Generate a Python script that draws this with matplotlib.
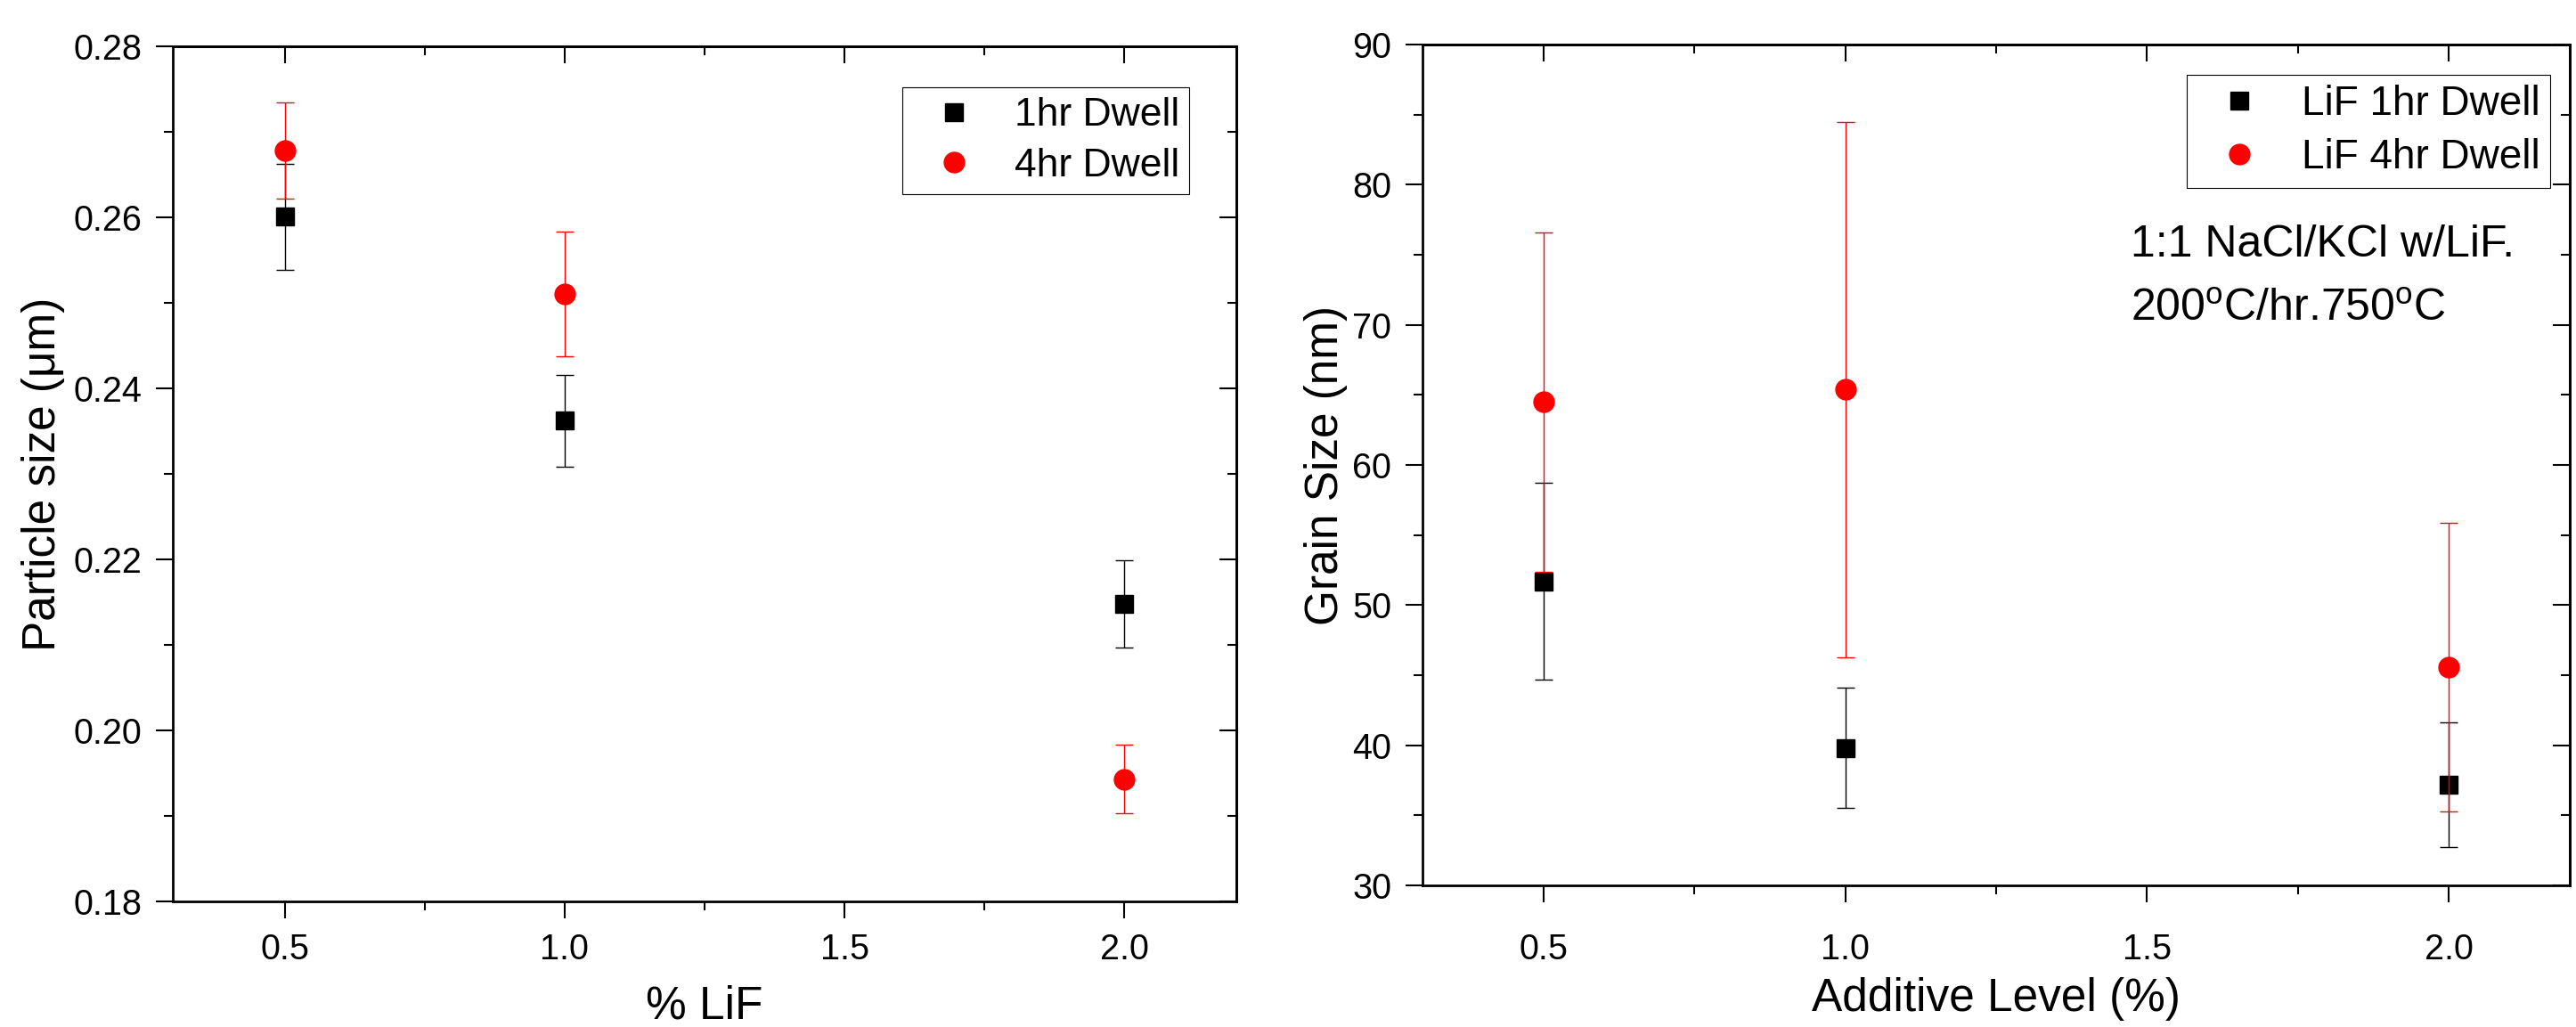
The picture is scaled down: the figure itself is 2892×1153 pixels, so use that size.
import matplotlib
matplotlib.use("Agg")
import matplotlib.pyplot as plt
from matplotlib.lines import Line2D
from matplotlib.ticker import MultipleLocator, FormatStrFormatter

plt.rcParams['font.family'] = ['Liberation Sans', 'DejaVu Sans']
plt.rcParams['mathtext.fontset'] = 'custom'
plt.rcParams['mathtext.rm'] = 'Liberation Sans'
plt.rcParams['mathtext.it'] = 'Liberation Sans:italic'

# ---- data: left panel (particle size, um) ----
lif_levels = [0.5, 1.0, 2.0]
particle_1hr = [0.2601, 0.2362, 0.2148]
particle_1hr_err = [0.0062, 0.0054, 0.0051]
particle_4hr = [0.2678, 0.2510, 0.1943]
particle_4hr_err = [0.0056, 0.0073, 0.0040]
left_labels = ["1hr Dwell", "4hr Dwell"]

# ---- data: right panel (grain size, nm) ----
additive_levels = [0.5, 1.0, 2.0]
grain_1hr = [51.7, 39.8, 37.2]
grain_1hr_err = [7.0, 4.3, 4.45]
grain_4hr = [64.5, 65.4, 45.6]
grain_4hr_err = [12.1, 19.1, 10.3]
right_labels = ["LiF 1hr Dwell", "LiF 4hr Dwell"]

W, H = 2892, 1153
fig = plt.figure(figsize=(W / 100, H / 100), dpi=100)

ax1 = fig.add_axes([194 / W, 1 - 1012 / H, 1194 / W, 960 / H])
ax2 = fig.add_axes([1597 / W, 1 - 994 / H, 1288 / W, 944 / H])

SQ_MS = 14.4
CI_MS = 16.5


def draw(ax, x, y1, e1, y2, e2):
    ax.errorbar(x, y1, yerr=e1, fmt='s', color='black', markersize=SQ_MS,
                markeredgecolor='black', ecolor='black', elinewidth=1.0,
                capsize=7, capthick=1.0, zorder=3)
    ax.errorbar(x, y2, yerr=e2, fmt='o', color='red', markersize=CI_MS,
                markeredgecolor='red', ecolor='red', elinewidth=1.0,
                capsize=7, capthick=1.0, zorder=4)


def style(ax, ylim, ymaj, ymin_, yfmt, xpad):
    ax.set_xlim(0.3, 2.2)
    ax.set_ylim(*ylim)
    ax.xaxis.set_major_locator(MultipleLocator(0.5))
    ax.xaxis.set_minor_locator(MultipleLocator(0.25))
    ax.xaxis.set_major_formatter(FormatStrFormatter('%.1f'))
    ax.yaxis.set_major_locator(MultipleLocator(ymaj))
    ax.yaxis.set_minor_locator(MultipleLocator(ymin_))
    ax.yaxis.set_major_formatter(FormatStrFormatter(yfmt))
    for s in ax.spines.values():
        s.set_linewidth(2.0)
    ax.tick_params(which='both', direction='out', top=False, right=False,
                   width=1.5, labelsize=28.5)
    ax.tick_params(which='major', length=14)
    ax.tick_params(which='minor', length=7)
    ax.tick_params(axis='x', which='major', pad=xpad)
    ax.tick_params(axis='y', which='major', pad=11)
    # inward ticks on top and right
    top = ax.secondary_xaxis('top')
    top.xaxis.set_major_locator(MultipleLocator(0.5))
    top.xaxis.set_minor_locator(MultipleLocator(0.25))
    top.tick_params(which='both', direction='in', labeltop=False, width=1.5)
    top.tick_params(which='major', length=14)
    top.tick_params(which='minor', length=7)
    top.spines['top'].set_linewidth(2.0)
    right = ax.secondary_yaxis('right')
    right.yaxis.set_major_locator(MultipleLocator(ymaj))
    right.yaxis.set_minor_locator(MultipleLocator(ymin_))
    right.tick_params(which='both', direction='in', labelright=False, width=1.5)
    right.tick_params(which='major', length=14)
    right.tick_params(which='minor', length=7)
    right.spines['right'].set_linewidth(2.0)


def legend(ax, labels, anchor, fs):
    handles = [Line2D([], [], ls='none', marker='s', color='black', ms=SQ_MS),
               Line2D([], [], ls='none', marker='o', color='red', ms=CI_MS)]
    leg = ax.legend(handles, labels, loc='upper right', bbox_to_anchor=anchor,
                    borderaxespad=0, fontsize=fs, frameon=True, fancybox=False,
                    framealpha=1, edgecolor='black', borderpad=0.25,
                    labelspacing=0.35, handlelength=2.1, handletextpad=0.47)
    leg.get_frame().set_linewidth(0.8)


# ---- left panel ----
draw(ax1, lif_levels, particle_1hr, particle_1hr_err, particle_4hr, particle_4hr_err)
style(ax1, (0.18, 0.28), 0.02, 0.01, '%.2f', xpad=11)
ax1.set_ylabel("Particle size (\u03bcm)", fontsize=37)
ax1.yaxis.set_label_coords(-0.1013, 0.5)
ax1.set_xlabel("% LiF", fontsize=37)
ax1.xaxis.set_label_coords(0.5, -0.097)
legend(ax1, left_labels, (0.9556, 0.952), 32)

# ---- right panel ----
draw(ax2, additive_levels, grain_1hr, grain_1hr_err, grain_4hr, grain_4hr_err)
style(ax2, (30, 90), 10, 5, '%d', xpad=24)
ax2.set_ylabel("Grain Size (nm)", fontsize=37)
ax2.yaxis.set_label_coords(-0.0652, 0.5)
ax2.set_xlabel("Additive Level (%)", fontsize=37)
ax2.xaxis.set_label_coords(0.5, -0.109)
legend(ax2, right_labels, (0.9829, 0.964), 33)

ax2.text(0.617, 0.7476, "1:1 NaCl/KCl w/LiF.", transform=ax2.transAxes,
         fontsize=36, va='baseline', ha='left')
ax2.text(0.617, 0.6713, r"200$^{\mathrm{o}}$C/hr.750$^{\mathrm{o}}$C",
         transform=ax2.transAxes, fontsize=36, va='baseline', ha='left')

fig.savefig("out.png", dpi=100)
